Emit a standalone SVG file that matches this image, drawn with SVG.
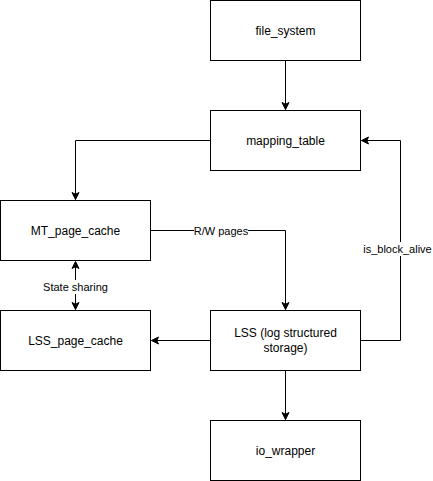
<svg xmlns="http://www.w3.org/2000/svg" width="433" height="481" viewBox="0 0 433 481">
<style>
.box{fill:#fff;stroke:#000;stroke-width:1}
.lbl{font-family:"Liberation Sans",Arial,sans-serif;font-size:12px;fill:#000;text-anchor:middle;dominant-baseline:central}
.el{font-family:"Liberation Sans",Arial,sans-serif;font-size:11px;fill:#000;text-anchor:middle;dominant-baseline:central}
.edge{fill:none;stroke:#000;stroke-width:1}
</style>
<defs>
<marker id="arr" markerUnits="userSpaceOnUse" markerWidth="10" markerHeight="10" viewBox="0 0 10 10" refX="8" refY="5" orient="auto-start-reverse">
<path d="M1,1.5 L8,5 L1,8.5 L2.75,5 Z" fill="#000" stroke="#000" stroke-width="1"/>
</marker>
</defs>
<rect width="433" height="481" fill="#fff"/>
<g id="connectors">
<path class="edge" d="M285.5,60.5 V109.5" marker-end="url(#arr)"/>
<path class="edge" d="M210.5,140.5 H75.5 V199.5" marker-end="url(#arr)"/>
<path class="edge" d="M150.5,230.5 H285.5 V309.5" marker-end="url(#arr)"/>
<path class="edge" d="M75.5,261.5 V309.5" marker-start="url(#arr)" marker-end="url(#arr)"/>
<path class="edge" d="M210.5,340.5 H151.5" marker-end="url(#arr)"/>
<path class="edge" d="M360.5,340.5 H400.5 V140.5 H361.5" marker-end="url(#arr)"/>
<path class="edge" d="M285.5,370.5 V419.5" marker-end="url(#arr)"/>
<rect x="194" y="224" width="54" height="14" fill="#fff"/>
<text class="el" x="221" y="231">R/W pages</text>
<rect x="42" y="280" width="67" height="14" fill="#fff"/>
<text class="el" x="75.5" y="287">State sharing</text>
<rect x="363" y="242" width="70" height="14" fill="#fff"/>
<text class="el" x="397.5" y="249">is_block_alive</text>
</g>
<g id="file_system"><rect class="box" x="210.5" y="0.5" width="150" height="60"/><text class="lbl" x="285.5" y="31">file_system</text></g>
<g id="mapping_table"><rect class="box" x="210.5" y="110.5" width="150" height="60"/><text class="lbl" x="285.5" y="141">mapping_table</text></g>
<g id="MT_page_cache"><rect class="box" x="0.5" y="200.5" width="150" height="60"/><text class="lbl" x="75.5" y="231">MT_page_cache</text></g>
<g id="LSS_page_cache"><rect class="box" x="0.5" y="310.5" width="150" height="60"/><text class="lbl" x="75.5" y="341">LSS_page_cache</text></g>
<g id="LSS"><rect class="box" x="210.5" y="310.5" width="150" height="60"/><text class="lbl" x="285.5" y="333">LSS (log structured</text><text class="lbl" x="285.5" y="348">storage)</text></g>
<g id="io_wrapper"><rect class="box" x="210.5" y="420.5" width="150" height="60"/><text class="lbl" x="285.5" y="451">io_wrapper</text></g>
</svg>
